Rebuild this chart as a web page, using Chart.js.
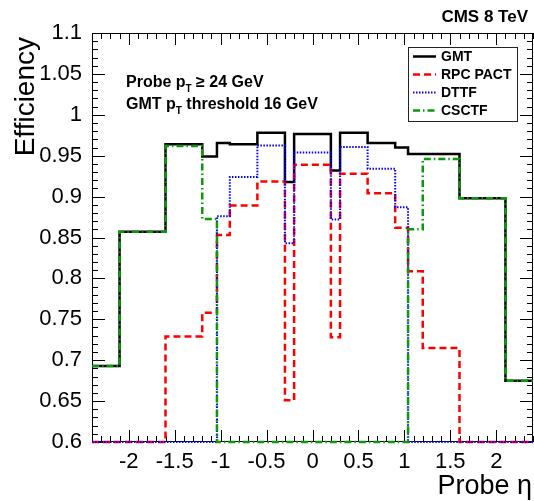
<!DOCTYPE html>
<html>
<head>
<meta charset="utf-8">
<script src="https://cdn.jsdelivr.net/npm/chart.js@4.4.1/dist/chart.umd.min.js"></script>
<style>
  body { margin: 0; background: #fff; }
  canvas { display: block; }
</style>
</head>
<body>
<canvas id="effChart" width="534" height="501"></canvas>
<script>
// Probe eta bin edges (17 bins)
const etaEdges = [-2.4, -2.1, -1.6, -1.2, -1.04, -0.9, -0.6, -0.3, -0.2, 0.2, 0.3, 0.6, 0.9, 1.04, 1.2, 1.6, 2.1, 2.4];

// Efficiency per bin, 0 means the trigger has no coverage there
const gmtEff   = [0.693, 0.857, 0.964, 0.949, 0.9655, 0.964, 0.978, 0.918, 0.9765, 0.932, 0.978, 0.9655, 0.960, 0.952, 0.952, 0.898, 0.675];
const rpcEff   = [0, 0, 0.729, 0.758, 0.853, 0.889, 0.9186, 0.651, 0.939, 0.728, 0.928, 0.904, 0.862, 0.8086, 0.715, 0, 0];
const dttfEff  = [0, 0, 0, 0, 0.876, 0.924, 0.9626, 0.843, 0.954, 0.872, 0.9606, 0.934, 0.887, 0, 0, 0, 0];
const csctfEff = [0.693, 0.857, 0.962, 0.8726, 0, 0, 0, 0, 0, 0, 0, 0, 0, 0.860, 0.946, 0.898, 0.675];

const seriesNames = ['GMT', 'RPC PACT', 'DTTF', 'CSCTF'];

const xTickValues = [-2, -1.5, -1, -0.5, 0, 0.5, 1, 1.5, 2];
const xTickLabels = ['-2', '-1.5', '-1', '-0.5', '0', '0.5', '1', '1.5', '2'];
const yTickValues = [0.6, 0.65, 0.7, 0.75, 0.8, 0.85, 0.9, 0.95, 1, 1.05, 1.1];
const yTickLabels = ['0.6', '0.65', '0.7', '0.75', '0.8', '0.85', '0.9', '0.95', '1', '1.05', '1.1'];

const X_MIN = -2.4, X_MAX = 2.4;
const Y_MIN = 0.6, Y_MAX = 1.1;

const FONT = "'Liberation Sans', Arial, Helvetica, sans-serif";

const lineStyles = [
  { color: '#000000', width: 2.5, dash: [] },
  { color: '#ff0000', width: 2.5, dash: [7, 4] },
  { color: '#0000ff', width: 2, dash: [1.5, 1.5] },
  { color: '#0a990a', width: 2.5, dash: [7, 3, 1.5, 3] }
];

// histogram as step points: one point per bin start, plus the last edge
// (empty bins are drawn on the frame bottom, like ROOT does)
function histPoints(values) {
  const pts = values.map((v, i) => ({ x: etaEdges[i], y: Math.max(v, Y_MIN) }));
  pts.push({ x: etaEdges[etaEdges.length - 1], y: Math.max(values[values.length - 1], Y_MIN) });
  return pts;
}

const allSeries = [gmtEff, rpcEff, dttfEff, csctfEff];

const datasets = allSeries.map((vals, i) => ({
  label: seriesNames[i],
  data: histPoints(vals),
  stepped: true,
  borderColor: lineStyles[i].color,
  borderWidth: lineStyles[i].width,
  borderDash: lineStyles[i].dash,
  borderCapStyle: 'butt',
  borderJoinStyle: 'miter',
  pointRadius: 0,
  fill: false,
  clip: 4,
  order: allSeries.length - i // later series painted on top
}));

// frame and ROOT style inner ticks on all four sides
const frameTicks = {
  id: 'frameTicks',
  beforeDatasetsDraw(chart) {
    const { ctx, chartArea: a, scales: { x, y } } = chart;
    ctx.save();
    ctx.strokeStyle = '#000';
    ctx.lineWidth = 1;
    ctx.strokeRect(a.left + 0.5, a.top + 0.5, a.right - a.left - 1, a.bottom - a.top - 1);
    ctx.beginPath();
    for (let i = -24; i <= 24; i++) {
      const px = Math.round(x.getPixelForValue(i / 10)) + 0.5;
      const len = i % 5 === 0 ? 12 : 6;
      ctx.moveTo(px, a.bottom); ctx.lineTo(px, a.bottom - len);
      ctx.moveTo(px, a.top); ctx.lineTo(px, a.top + len);
    }
    for (let j = 60; j <= 110; j++) {
      const py = Math.round(y.getPixelForValue(j / 100)) + 0.5;
      const len = j % 5 === 0 ? 13 : 6;
      ctx.moveTo(a.left, py); ctx.lineTo(a.left + len, py);
      ctx.moveTo(a.right, py); ctx.lineTo(a.right - len, py);
    }
    ctx.stroke();
    ctx.restore();
  }
};

// titles, labels and the legend box
const textLayer = {
  id: 'textLayer',
  afterDraw(chart) {
    const ctx = chart.ctx;
    ctx.save();
    ctx.fillStyle = '#000';

    // CMS label
    ctx.font = 'bold 17px ' + FONT;
    ctx.textAlign = 'right';
    ctx.textBaseline = 'alphabetic';
    ctx.fillText('CMS 8 TeV', 528, 22);

    // axis titles
    ctx.font = '27px ' + FONT;
    ctx.fillText('Probe \u03b7', 532, 494);

    ctx.save();
    ctx.translate(34, 37);
    ctx.rotate(-Math.PI / 2);
    ctx.font = '28px ' + FONT;
    ctx.textAlign = 'right';
    ctx.fillText('Efficiency', 0, 0);
    ctx.restore();

    // selection text with subscript T
    ctx.textAlign = 'left';
    function withSub(before, after, x, y) {
      ctx.font = 'bold 16px ' + FONT;
      ctx.fillText(before, x, y);
      let cx = x + ctx.measureText(before).width;
      ctx.font = 'bold 10px ' + FONT;
      ctx.fillText('T', cx, y + 5);
      cx += ctx.measureText('T').width;
      ctx.font = 'bold 16px ' + FONT;
      ctx.fillText(after, cx, y);
    }
    withSub('Probe p', ' \u2265 24 GeV', 126, 87);
    withSub('GMT p', ' threshold 16 GeV', 126, 109);

    // legend
    ctx.fillStyle = '#fff';
    ctx.fillRect(408.5, 47.5, 109, 74);
    ctx.strokeStyle = '#222';
    ctx.lineWidth = 1;
    ctx.setLineDash([]);
    ctx.strokeRect(408.5, 47.5, 109, 74);
    ctx.font = 'bold 14px ' + FONT;
    ctx.textBaseline = 'middle';
    seriesNames.forEach((name, i) => {
      const yy = 56.5 + i * 18;
      ctx.strokeStyle = lineStyles[i].color;
      ctx.lineWidth = lineStyles[i].width;
      ctx.setLineDash(lineStyles[i].dash);
      ctx.beginPath();
      ctx.moveTo(413, yy);
      ctx.lineTo(436, yy);
      ctx.stroke();
      ctx.fillStyle = '#000';
      ctx.fillText(name, 441, yy + 1);
    });
    ctx.restore();
  }
};

new Chart(document.getElementById('effChart'), {
  type: 'line',
  data: { datasets: datasets },
  options: {
    responsive: false,
    animation: false,
    devicePixelRatio: 1,
    layout: { padding: { top: 33, right: 1, left: 0, bottom: 0 } },
    plugins: { legend: { display: false }, tooltip: { enabled: false } },
    scales: {
      x: {
        type: 'linear',
        min: X_MIN,
        max: X_MAX,
        grid: { display: false, drawTicks: false },
        border: { display: false },
        afterBuildTicks: (scale) => { scale.ticks = xTickValues.map(v => ({ value: v })); },
        afterFit: (scale) => { scale.height = 59; },
        ticks: {
          autoSkip: false,
          maxRotation: 0,
          padding: 7,
          color: '#000',
          font: { family: FONT, size: 22 },
          callback: (v, i) => xTickLabels[i]
        }
      },
      y: {
        type: 'linear',
        min: Y_MIN,
        max: Y_MAX,
        grid: { display: false, drawTicks: false },
        border: { display: false },
        afterBuildTicks: (scale) => { scale.ticks = yTickValues.map(v => ({ value: v })); },
        afterFit: (scale) => { scale.width = 92; },
        ticks: {
          autoSkip: false,
          padding: 10,
          color: '#000',
          font: { family: FONT, size: 22 },
          callback: (v, i) => yTickLabels[i]
        }
      }
    }
  },
  plugins: [frameTicks, textLayer]
});
</script>
</body>
</html>
